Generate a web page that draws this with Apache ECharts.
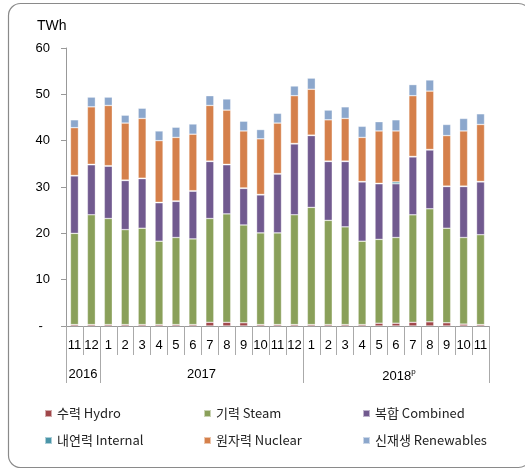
<!DOCTYPE html>
<html><head><meta charset="utf-8">
<script src="https://cdn.jsdelivr.net/npm/echarts@6/dist/echarts.min.js"></script>
<style>html,body{margin:0;padding:0;background:#fff}#c{width:525px;height:469px}</style>
</head><body><div id="c"></div>
<script>
const months = ['11','12','1','2','3','4','5','6','7','8','9','10','11','12','1','2','3','4','5','6','7','8','9','10','11'];
const yearGroups = [
  {label:'2016', start:0, count:2},
  {label:'2017', start:2, count:12},
  {label:'2018', sup:'p', start:14, count:11}
];
const hydro     = [0.3,0.3,0.3,0.3,0.3,0.3,0.3,0.3,0.8,0.8,0.7,0.3,0.3,0.3,0.3,0.3,0.3,0.3,0.6,0.6,0.8,0.9,0.7,0.4,0.3];
const steam     = [19.7,23.7,22.9,20.5,20.8,18.0,18.8,18.5,22.4,23.4,21.1,19.8,19.8,23.7,25.3,22.5,21.1,18.0,18.1,18.5,23.2,24.4,20.4,18.7,19.4];
const combined  = [12.4,10.8,11.3,10.6,10.7,8.3,7.8,10.3,12.3,10.6,7.9,8.2,12.7,15.3,15.5,12.7,14.1,12.8,12.0,11.6,12.5,12.7,9.0,11.0,11.4];
const internal  = [0.1,0.1,0.1,0.1,0.1,0.1,0.1,0.1,0.1,0.1,0.1,0.1,0.1,0.1,0.1,0.1,0.1,0.1,0.1,0.4,0.1,0.1,0.1,0.1,0.1];
const nuclear   = [10.3,12.4,13.0,12.3,12.9,13.3,13.7,12.2,12.0,11.7,12.3,12.0,10.9,10.3,9.9,8.9,9.2,9.5,11.3,11.0,13.1,12.6,10.9,11.9,12.3];
const renewables= [1.7,2.1,1.8,1.7,2.2,2.1,2.2,2.2,2.1,2.4,2.1,2.0,2.1,2.1,2.4,2.1,2.5,2.4,2.0,2.4,2.4,2.4,2.4,2.7,2.3];
const seriesNames = ['수력 Hydro','기력 Steam','복합 Combined','내연력 Internal','원자력 Nuclear','신재생 Renewables'];
const seriesData = [hydro, steam, combined, internal, nuclear, renewables];
const colors = ['#a0474a','#8aa05a','#715a8f','#4a95a8','#d5804b','#8ca7cc'];

const font = "'Liberation Sans', 'Noto Sans', sans-serif";
const legendFont = "'Noto Sans CJK KR', 'Noto Sans', sans-serif";

const yearLabelAt = {};
yearGroups.forEach(g => {
  const mid = g.start + (g.count - 1) / 2;
  const idx = Math.floor(mid);
  yearLabelAt[idx] = {g: g, half: mid !== idx};
});
const boundaries = yearGroups.map(g => g.start);

const chart = echarts.init(document.getElementById('c'), null, {renderer:'canvas'});
const legendPos = [[44,407],[203,407],[362,407],[44,434],[203,434],[362,434]];
chart.setOption({
  animation: false,
  color: colors,
  title: {text:'TWh', left: 37, top: 19, padding: 0, textStyle:{fontSize:14, fontWeight:'normal', color:'#000', fontFamily: font}},
  graphic: [{type:'rect', shape:{x:8.5, y:3.5, width:522, height:464, r:12}, style:{fill:'none', stroke:'#8a8a8a', lineWidth:1.2}, silent:true}],
  legend: seriesNames.map((n,i) => ({
    data:[n], left: legendPos[i][0], top: legendPos[i][1], padding:0,
    icon:'rect', itemWidth:7, itemHeight:7, itemGap:5,
    textStyle:{fontSize:13, color:'#222', fontFamily: legendFont}
  })),
  grid: {left:66, right:36, top:48, bottom:143, containLabel:false},
  xAxis: [{
    type:'category', data: months, boundaryGap:true,
    axisLine:{lineStyle:{color:'#999'}},
    axisTick:{show:true, interval:0, length:29, lineStyle:{color:'#aaa'}},
    axisLabel:{interval:0, margin:13, fontSize:13, color:'#000', fontFamily: font}
  },{
    type:'category', data: months, boundaryGap:true, position:'bottom',
    axisLine:{show:false},
    axisTick:{show:true, length:57, interval:(i)=>boundaries.indexOf(i) >= 0, lineStyle:{color:'#aaa'}},
    axisLabel:{
      interval:(i)=> yearLabelAt[i] !== undefined, margin:42, fontSize:13, color:'#000', fontFamily: font,
      formatter:(v,i)=>{
        const e = yearLabelAt[i]; if(!e) return '';
        const st = e.half ? 'h' : 'n';
        return '{'+st+'|'+e.g.label+'}' + (e.g.sup ? '{s|'+e.g.sup+'}' : '');
      },
      rich:{
        h:{padding:[0,0,0,17], fontSize:13, fontFamily:font, color:'#000'},
        n:{fontSize:13, fontFamily:font, color:'#000', padding:[0,0,0,6]},
        s:{fontSize:8, fontFamily:font, color:'#000', padding:[0,0,8,0]}
      }
    }
  }],
  yAxis: {
    type:'value', min:0, max:60, interval:10,
    axisLine:{show:true, lineStyle:{color:'#999'}},
    axisTick:{show:true, length:5, lineStyle:{color:'#999'}},
    splitLine:{show:false},
    axisLabel:{margin:16, fontSize:13, color:'#000', fontFamily: font, formatter:(v)=> v===0 ? '-  ' : String(v)}
  },
  series: seriesNames.map((n,i) => ({
    name:n, type:'bar', stack:'total', barWidth:8, xAxisIndex:0,
    data: seriesData[i],
    itemStyle:{color:colors[i], borderColor:'rgba(255,255,255,0.55)', borderWidth:0.6}
  }))
});
</script></body></html>
